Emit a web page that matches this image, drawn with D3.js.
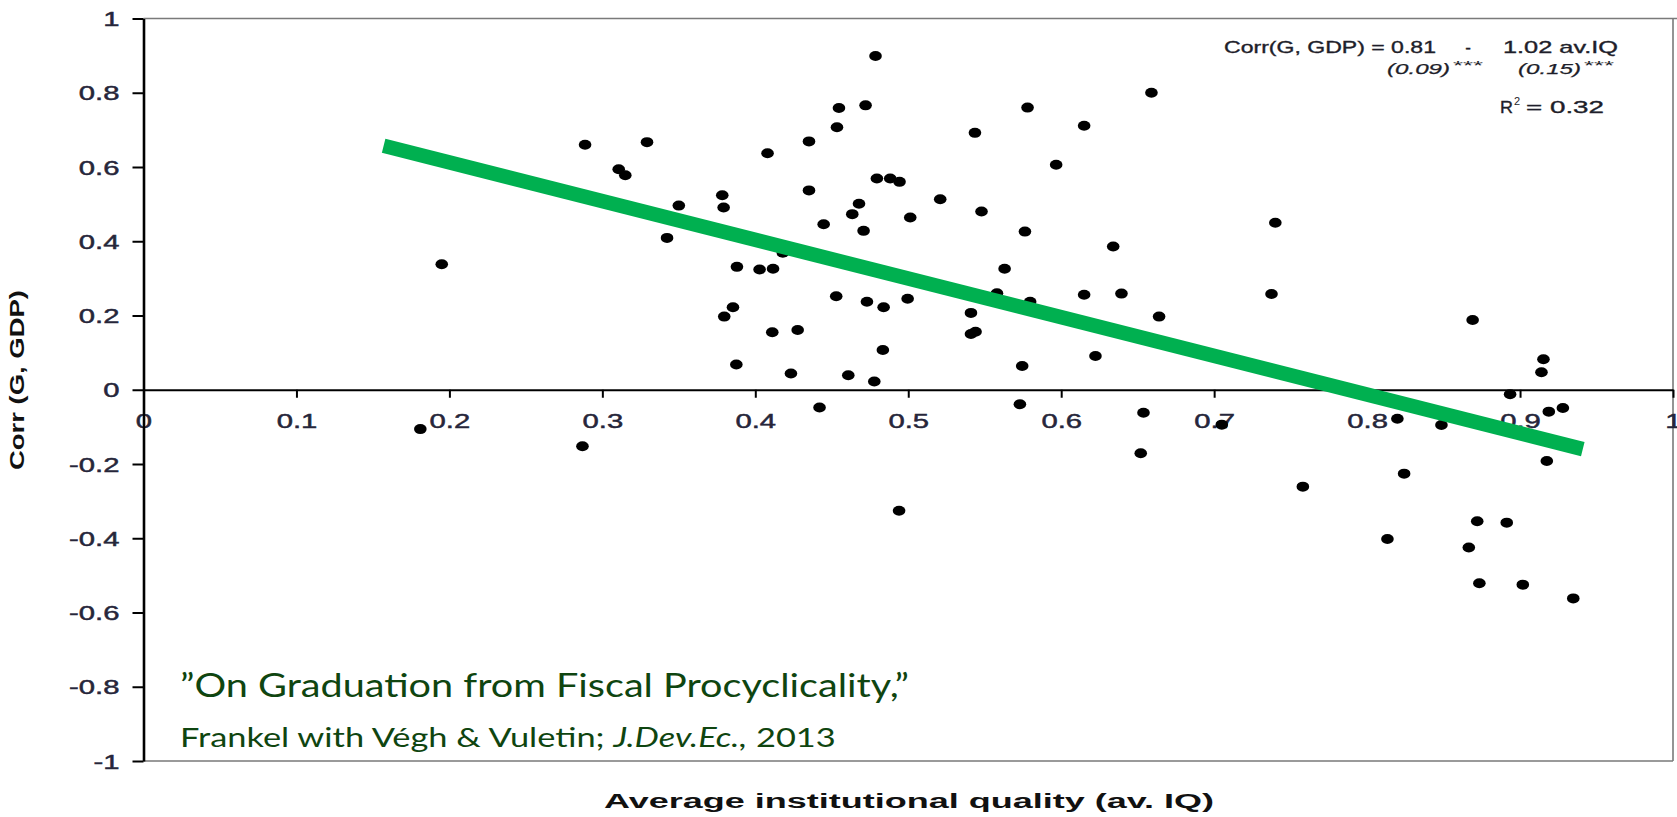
<!DOCTYPE html>
<html><head><meta charset="utf-8">
<script src="https://cdn.jsdelivr.net/npm/d3@7"></script>
<style>html,body{margin:0;padding:0;background:#fff;overflow:hidden}</style>
</head><body><svg id="c" width="1677" height="817"></svg>
<script>
// ---- data ----
const iq = [0.195,0.181,0.2887,0.287,0.4786,0.4547,0.4721,0.4534,0.3292,0.4351,0.5436,0.408,0.3107,0.315,0.4795,0.4882,0.4943,0.4351,0.3784,0.3793,0.350,0.4678,0.4634,0.5209,0.5013,0.5479,0.4447,0.4708,0.3423,0.418,0.388,0.4028,0.4116,0.563,0.4529,0.473,0.4839,0.4996,0.3854,0.3797,0.541,0.558,0.541,0.544,0.4111,0.4277,0.4834,0.3876,0.4233,0.4608,0.4778,0.442,0.494,0.659,0.578,0.615,0.5967,0.740,0.5763,0.634,0.5797,0.615,0.6394,0.7375,0.664,0.6224,0.5745,0.573,0.6538,0.705,0.652,0.758,0.869,0.9153,0.914,0.8935,0.928,0.9188,0.8198,0.8486,0.9175,0.8242,0.872,0.8913,0.8133,0.8665,0.8734,0.9018,0.9348];
const corr = [0.338,-0.106,0.660,-0.152,0.899,0.759,0.766,0.707,0.667,0.669,0.692,0.637,0.594,0.578,0.569,0.569,0.560,0.537,0.524,0.491,0.496,0.501,0.473,0.513,0.464,0.480,0.446,0.428,0.409,0.369,0.331,0.324,0.326,0.326,0.252,0.237,0.222,0.245,0.222,0.197,0.207,0.260,0.150,0.156,0.155,0.161,0.107,0.068,0.044,0.039,0.022,-0.048,-0.326,0.800,0.760,0.711,0.606,0.450,0.426,0.386,0.237,0.256,0.259,0.258,0.197,0.091,0.064,-0.039,-0.062,-0.094,-0.171,-0.261,0.188,0.082,0.047,-0.012,-0.049,-0.059,-0.078,-0.095,-0.192,-0.226,-0.354,-0.358,-0.402,-0.425,-0.521,-0.525,-0.562];
const fitIQ = [0.157, 0.941];
const fitCorr = [0.657, -0.160];
const xTicks = [0,0.1,0.2,0.3,0.4,0.5,0.6,0.7,0.8,0.9,1];
const xTickLabels = ["0","0.1","0.2","0.3","0.4","0.5","0.6","0.7","0.8","0.9","1"];
const yTicks = [1,0.8,0.6,0.4,0.2,0,-0.2,-0.4,-0.6,-0.8,-1];
const yTickLabels = ["1","0.8","0.6","0.4","0.2","0","-0.2","-0.4","-0.6","-0.8","-1"];

const svg = d3.select("#c");
const x = d3.scaleLinear().domain([0,1]).range([143.5,1673]);
const y = d3.scaleLinear().domain([-1,1]).range([761,18.5]);
const FONT = "'Liberation Sans', Arial, sans-serif";
const LABEL = "#26263a";

// frame
svg.append("path")
  .attr("d", `M${x(0)},${y(1)}H1677M${x(1)},${y(1)}V${y(-1)}M${x(0)},${y(-1)}H${x(1)}`)
  .attr("stroke","#7a7a7a").attr("stroke-width",1.6).attr("fill","none");

// x axis (at y=0)
const gx = svg.append("g").attr("transform",`translate(0,${y(0)})`)
  .call(d3.axisBottom(x).tickValues(xTicks).tickFormat((d,i)=>xTickLabels[i]).tickSize(8).tickSizeOuter(0));
gx.select(".domain").attr("stroke","#000").attr("stroke-width",2.2);
gx.selectAll(".tick line").attr("stroke","#000").attr("stroke-width",2);
gx.selectAll(".tick text").attr("y",0).attr("dy","0.36em")
  .attr("transform","translate(0,31) scale(1.5,1)")
  .style("font-family",FONT).style("font-size","19.5px").attr("fill",LABEL)
  .attr("stroke",LABEL).attr("stroke-width",0.45);

// y axis
const gy = svg.append("g").attr("transform",`translate(${x(0)},0)`)
  .call(d3.axisLeft(y).tickValues(yTicks).tickFormat((d,i)=>yTickLabels[i]).tickSize(11).tickSizeOuter(0));
gy.select(".domain").attr("stroke","#000").attr("stroke-width",2.6);
gy.selectAll(".tick line").attr("stroke","#000").attr("stroke-width",2);
gy.selectAll(".tick text").attr("x",0).attr("dy","0.36em")
  .attr("transform","translate(-24,0) scale(1.5,1)")
  .style("font-family",FONT).style("font-size","19.5px").attr("fill",LABEL)
  .attr("stroke",LABEL).attr("stroke-width",0.45);

// dots
svg.append("g").selectAll("ellipse").data(iq).join("ellipse")
  .attr("cx",(d)=>x(d)).attr("cy",(d,i)=>y(corr[i]))
  .attr("rx",6.3).attr("ry",5).attr("fill","#000");

// fitted line
svg.append("line")
  .attr("x1",x(fitIQ[0])).attr("y1",y(fitCorr[0]))
  .attr("x2",x(fitIQ[1])).attr("y2",y(fitCorr[1]))
  .attr("stroke","#00b050").attr("stroke-width",14.5);

// text helper
function T(s, xx, yy, o) {
  o = o || {};
  const t = svg.append("text").attr("x",xx).attr("y",yy).text(s)
    .style("font-family", o.family || FONT)
    .style("font-size", (o.size||17)+"px")
    .style("font-weight", o.weight || "normal")
    .style("font-style", o.style || "normal")
    .attr("fill", o.fill || "#222")
    .attr("text-anchor", o.anchor || "start");
  if (o.stroke) t.attr("stroke", o.fill || "#222").attr("stroke-width", o.stroke);
  if (o.len) t.attr("textLength", o.len).attr("lengthAdjust","spacingAndGlyphs");
  if (o.rotate) t.attr("transform", `rotate(${o.rotate},${xx},${yy})`);
  return t;
}

// axis titles
T("Average institutional quality (av. IQ)", 909, 808, {size:20, weight:"bold", anchor:"middle", len:610, fill:"#111"});
T("Corr (G, GDP)", 24, 380, {size:20, weight:"bold", anchor:"middle", len:180, rotate:-90, fill:"#111"});

// regression annotation
const ANN = "#1e1e2a";
T("Corr(G, GDP) = 0.81", 1224, 53, {size:17, len:212, fill:ANN, stroke:0.35});
T("-", 1468, 53, {size:17, anchor:"middle", fill:ANN, stroke:0.35});
T("1.02 av.IQ", 1503, 53, {size:17, len:115, fill:ANN, stroke:0.35});
T("(0.09)", 1387, 74, {size:15, style:"italic", len:63, fill:ANN, stroke:0.25});
T("***", 1453, 70, {size:12, len:30, fill:ANN});
T("(0.15)", 1518, 74, {size:15, style:"italic", len:63, fill:ANN, stroke:0.25});
T("***", 1584, 70, {size:12, len:30, fill:ANN});
T("R", 1500, 113, {size:17, len:13, fill:ANN, stroke:0.35});
T("2", 1514, 105, {size:11, fill:ANN});
T("= 0.32", 1526, 113, {size:17, len:78, fill:ANN, stroke:0.35});

// citation
const GREEN = "#0f4510";
const CAL = "Lato, 'Open Sans', sans-serif";
T("\u201DOn Graduation from Fiscal Procyclicality,\u201D", 180, 697, {size:32, family:CAL, fill:GREEN, len:729});
const c2 = svg.append("text").attr("x",180).attr("y",747)
  .style("font-family",CAL).style("font-size","27px").attr("fill",GREEN);
c2.append("tspan").text("Frankel with Végh & Vuletin; ");
c2.append("tspan").style("font-style","italic").text("J.Dev.Ec.,");
c2.append("tspan").text(" 2013");
const w2 = c2.node().getBBox().width;
const sx2 = 656 / w2;
c2.attr("transform", `translate(180,0) scale(${sx2},1) translate(-180,0)`);
</script></body></html>
